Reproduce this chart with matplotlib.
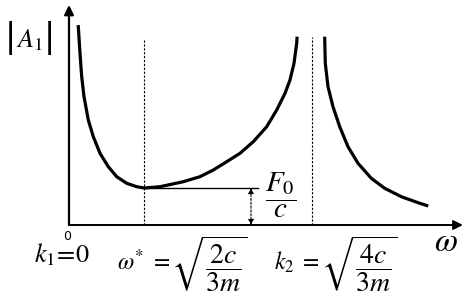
import matplotlib
matplotlib.use("Agg")
import matplotlib.pyplot as plt

plt.rcParams['mathtext.fontset'] = 'stix'
plt.rcParams['font.family'] = 'STIXGeneral'

# chart units: omega measured from the |A1| axis, amplitude above the omega axis
left_w = [9.3, 11, 12.7, 15, 19.3, 24.3, 31, 39.3, 47.7, 57.7, 67.7, 75,
          91, 114.3, 131, 144.3, 157.7, 171, 184.3, 197.7, 207.7, 216, 221,
          225, 227.7, 228]
left_a = [198.3, 171.7, 148.3, 128.3, 105, 88.3, 71.7, 58.3, 48.3, 41.7,
          38.3, 37, 38.3, 43.3, 48.3, 55, 63.3, 71.7, 83.3, 98.3, 115, 131.7,
          145, 161.7, 181.7, 186.7]
right_w = [255.7, 256.3, 259, 264, 270.7, 279, 289, 302.3, 315.7, 332.3,
           349, 357.7]
right_a = [186.7, 161.7, 138.3, 118.3, 98.3, 78.3, 61.7, 46.7, 36.7, 28.3,
           22.3, 19.5]

omega_star = 75      # position of omega*
k2 = 243             # position of k2
a_min = 37           # F0/c level
level_end = 189
arrow_w = 182

fig = plt.figure(figsize=(4.67, 3.06), dpi=100)
ax = fig.add_axes([0, 0, 1, 1])
ax.set_xlim(-69, 398)
ax.set_ylim(-81, 225)
ax.axis('off')

# axes with arrows
ax.annotate('', xy=(0, 220), xytext=(0, 0),
            arrowprops=dict(arrowstyle='-|>', color='black', lw=1.6,
                            mutation_scale=14, shrinkA=0, shrinkB=0))
ax.annotate('', xy=(394, 0), xytext=(0, 0),
            arrowprops=dict(arrowstyle='-|>', color='black', lw=1.4,
                            mutation_scale=14, shrinkA=0, shrinkB=0))

# curves
ax.plot(left_w, left_a, color='black', lw=2.3, solid_joinstyle='round')
ax.plot(right_w, right_a, color='black', lw=2.3, solid_joinstyle='round')

# dashed guides
ax.plot([omega_star, omega_star], [0, 185], color='black', lw=0.8, ls=(0, (2, 1.5)))
ax.plot([k2, k2], [0, 188], color='black', lw=0.8, ls=(0, (2, 1.5)))
ax.plot([omega_star, level_end], [a_min, a_min], color='black', lw=1.0)
ax.annotate('', xy=(arrow_w, a_min), xytext=(arrow_w, 0),
            arrowprops=dict(arrowstyle='<|-|>', color='black', lw=0.8,
                            ls=(0, (2, 1.5)), mutation_scale=8,
                            shrinkA=0, shrinkB=0))

# labels
ax.text(-59, 187, '|', fontsize=24, ha='center', va='center', family='DejaVu Sans')
ax.text(-20, 187, '|', fontsize=24, ha='center', va='center', family='DejaVu Sans')
ax.text(-40, 184, r'$A_1$', fontsize=19, ha='center', va='center')
ax.text(377, -18, r'$\omega$', fontsize=24, ha='center', va='center')
ax.text(-2, -11, '0', fontsize=9, ha='center', va='center',
        family='DejaVu Sans')
ax.text(-7, -30, r'$k_1\!=\!0$', fontsize=19, ha='center', va='center')

ax.text(101, -37, r'$\omega^{*}\ =$', fontsize=17, ha='right', va='center')
ax.text(102, -39, r'$\sqrt{\dfrac{2c}{3m}}$', fontsize=20,
        ha='left', va='center')
ax.text(251, -37, r'$k_2\ =$', fontsize=17, ha='right', va='center')
ax.text(252, -39, r'$\sqrt{\dfrac{4c}{3m}}$', fontsize=20,
        ha='left', va='center')

ax.text(212, 30, r'$\dfrac{F_0}{c}$', fontsize=21, ha='center', va='center')

fig.savefig('out.png', dpi=100)
